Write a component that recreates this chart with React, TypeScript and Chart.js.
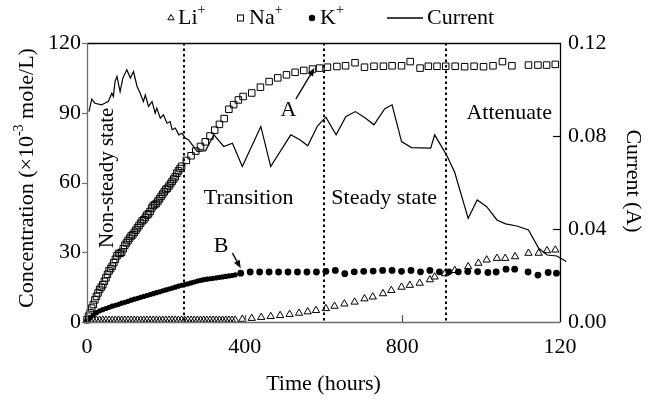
import React, { useEffect, useRef } from 'react';
import { Chart, registerables } from 'chart.js';
Chart.register(...registerables);

// ---------- data ----------
const naTime = [0, 4, 8, 12, 16, 20, 24, 28, 32, 36, 40, 44, 48, 52, 56, 60, 64, 68, 72, 76, 80, 84, 88, 92, 96, 100, 104, 108, 112, 116, 120, 124, 128, 132, 136, 140, 144, 148, 152, 156, 160, 164, 168, 172, 176, 180, 184, 188, 192, 196, 200, 204, 208, 212, 216, 220, 224, 228, 232, 236, 240, 252, 264, 276, 288, 300, 312, 324, 336, 348, 360, 372, 384, 396, 418, 440, 462, 484, 506, 528, 550, 572, 590, 610, 634, 656, 680, 704, 728, 752, 774, 798, 820, 845, 866, 888, 910, 934, 958, 982, 1006, 1030, 1054, 1078, 1120, 1144, 1166, 1188];
const naValues = [1, 2.5, 4, 6, 7.5, 9.5, 11, 12.5, 14, 15, 16, 17.5, 19, 20.5, 22, 23, 24, 25.5, 27, 28.5, 29.5, 29.5, 30, 31.5, 33, 34, 35, 36, 37, 37.5, 38.5, 39.5, 40.5, 41.5, 42.5, 43.5, 44, 45, 46, 46.5, 47.5, 49, 50, 50.5, 51, 52, 53, 54, 55, 56, 57, 57.5, 58.5, 59.5, 60.5, 61.5, 62.5, 64, 65, 66, 67, 69.5, 71.5, 73.5, 75.5, 77.5, 80, 82.5, 85, 87.5, 91.5, 93.5, 95.5, 97, 98.5, 101, 103.4, 105, 106.3, 107.4, 108.2, 108.8, 109.2, 109.6, 109.9, 110.2, 111.5, 109.6, 110, 110, 110.2, 110.2, 112, 109.2, 110, 110, 110, 110, 109.8, 110, 109.8, 110.2, 112, 110.2, 110.5, 110.5, 110.5, 110.8];

const kTime = [0, 8, 16, 24, 32, 40, 48, 56, 64, 72, 80, 88, 96, 104, 112, 120, 128, 136, 144, 152, 160, 168, 176, 184, 192, 200, 208, 216, 224, 232, 240, 248, 256, 264, 272, 280, 288, 296, 304, 312, 320, 328, 336, 344, 352, 360, 368, 376, 390, 414, 438, 462, 486, 510, 534, 558, 582, 606, 630, 654, 678, 702, 726, 750, 774, 798, 822, 846, 870, 894, 918, 942, 966, 991, 1017, 1038, 1063, 1085, 1119, 1144, 1170, 1191];
const kValues = [0.5, 2, 3, 4, 4.8, 5.3, 5.8, 6.3, 6.8, 7.2, 7.6, 8.1, 8.5, 8.9, 9.4, 9.8, 10.2, 10.6, 11, 11.4, 11.8, 12.2, 12.6, 13, 13.4, 13.8, 14.2, 14.6, 15, 15.4, 15.8, 16.1, 16.4, 16.8, 17.2, 17.6, 17.9, 18.2, 18.4, 18.6, 18.8, 19, 19.2, 19.4, 19.6, 19.8, 20, 20.3, 21, 21.5, 21.5, 21.5, 21.5, 21.5, 21.5, 21.5, 21.5, 21.8, 22.2, 20.8, 21.6, 21.8, 21.9, 22.2, 22.2, 21.8, 22.2, 21.6, 22.2, 21.6, 21.6, 21.6, 21.7, 21.7, 21.3, 21.5, 22.7, 22.7, 21.5, 20.2, 21.3, 21];

const liTime = [0, 8, 16, 24, 32, 40, 48, 56, 64, 72, 80, 88, 96, 104, 112, 120, 128, 136, 144, 152, 160, 168, 176, 184, 192, 200, 208, 216, 224, 232, 240, 248, 256, 264, 272, 280, 288, 296, 304, 312, 320, 328, 336, 344, 352, 360, 368, 376, 394, 418, 442, 466, 490, 514, 538, 560, 581, 606, 628, 653, 679, 704, 725, 751, 772, 798, 819, 844, 870, 882, 908, 933, 967, 993, 1014, 1040, 1061, 1086, 1120, 1146, 1167, 1188];
const liValues = [0.8, 0.8, 0.8, 0.8, 0.8, 0.8, 0.8, 0.8, 0.8, 0.8, 0.8, 0.8, 0.8, 0.8, 0.8, 0.8, 0.8, 0.8, 0.8, 0.8, 0.8, 0.8, 0.8, 0.8, 0.8, 0.8, 0.8, 0.8, 0.8, 0.8, 0.8, 0.8, 0.8, 0.8, 0.8, 0.8, 0.8, 0.8, 0.8, 0.8, 0.8, 0.8, 0.8, 0.8, 0.8, 0.8, 0.8, 0.8, 1.2, 1.6, 2.0, 2.4, 2.8, 3.3, 3.8, 4.4, 5.0, 5.8, 6.8, 7.8, 8.6, 10.0, 10.8, 12.2, 13.6, 15.0, 15.8, 16.7, 18.2, 19.4, 20.8, 22.2, 23.8, 25.3, 26.7, 27.4, 27.4, 28.1, 29.6, 29.6, 30.7, 31];

const currentTime = [5, 12, 20, 37, 45, 54, 63, 67, 71, 76, 84, 91, 101, 110, 118, 127, 135, 143, 148, 156, 165, 173, 177, 186, 194, 203, 211, 216, 224, 233, 241, 250, 258, 267, 280, 301, 322, 347, 369, 394, 441, 466, 517, 541, 560, 585, 606, 632, 657, 681, 706, 728, 755, 774, 798, 823, 872, 882, 912, 933, 967, 990, 1014, 1040, 1062, 1091, 1120, 1146, 1167, 1192, 1216];
const currentValues = [0.0905, 0.0959, 0.0941, 0.0934, 0.0941, 0.0948, 0.0984, 0.097, 0.1034, 0.1056, 0.0991, 0.1049, 0.1085, 0.1049, 0.1077, 0.1013, 0.0984, 0.0948, 0.0977, 0.0927, 0.0948, 0.0898, 0.092, 0.0877, 0.0891, 0.0855, 0.0862, 0.0827, 0.0834, 0.0805, 0.0812, 0.079, 0.0783, 0.0762, 0.0733, 0.0737, 0.0805, 0.0755, 0.0769, 0.0669, 0.0841, 0.0669, 0.0805, 0.0783, 0.0758, 0.0844, 0.0881, 0.0805, 0.0884, 0.0905, 0.0877, 0.0848, 0.0916, 0.0934, 0.0776, 0.075, 0.0748, 0.0805, 0.0719, 0.0643, 0.0446, 0.0525, 0.0496, 0.0439, 0.0422, 0.0413, 0.0396, 0.0317, 0.0288, 0.0284, 0.026];

const xTickValues = [0, 400, 800, 1200];
const xTickLabels = ['0', '400', '800', '120'];
const yTickValues = [0, 30, 60, 90, 120];
const yTickLabels = ['0', '30', '60', '90', '120'];
const y1TickValues = [0, 0.04, 0.08, 0.12];
const y1TickLabels = ['0.00', '0.04', '0.08', '0.12'];

const phaseBoundaries = [245, 600, 912];
const phaseTexts = ['Non-steady state', 'Transition', 'Steady state', 'Attenuate'];
const phaseTextTime = [51, 410, 754, 1071];
const phaseTextConc = [62, 53.4, 53.4, 90];

const markLabels = ['A', 'B'];
const markLabelTime = [511, 340];
const markLabelConc = [91, 32.5];
const arrowFromTime = [530, 369];
const arrowFromConc = [96, 29.6];
const arrowToTime = [577, 390];
const arrowToConc = [109.2, 23.1];

// ---------- styling ----------
const FONT = "'Liberation Serif', 'Times New Roman', Times, serif";
const BASE = `22px ${FONT}`;
const SUP = `14px ${FONT}`;

type Part = { t: string; sup?: boolean };

function drawRich(ctx: CanvasRenderingContext2D, parts: Part[], x: number, y: number, align: 'left' | 'center') {
  let total = 0;
  const widths = parts.map((p) => {
    ctx.font = p.sup ? SUP : BASE;
    const w = ctx.measureText(p.t).width;
    total += w;
    return w;
  });
  let cx = align === 'center' ? x - total / 2 : x;
  ctx.textAlign = 'left';
  ctx.textBaseline = 'middle';
  parts.forEach((p, i) => {
    ctx.font = p.sup ? SUP : BASE;
    ctx.fillText(p.t, cx, p.sup ? y - 8 : y);
    cx += widths[i];
  });
}

function arrow(ctx: CanvasRenderingContext2D, x1: number, y1: number, x2: number, y2: number) {
  const ang = Math.atan2(y2 - y1, x2 - x1);
  const hl = 8;
  const hw = 3.2;
  ctx.beginPath();
  ctx.moveTo(x1, y1);
  ctx.lineTo(x2 - Math.cos(ang) * hl * 0.8, y2 - Math.sin(ang) * hl * 0.8);
  ctx.stroke();
  ctx.beginPath();
  ctx.moveTo(x2, y2);
  ctx.lineTo(x2 - Math.cos(ang) * hl - Math.sin(ang) * hw, y2 - Math.sin(ang) * hl + Math.cos(ang) * hw);
  ctx.lineTo(x2 - Math.cos(ang) * hl + Math.sin(ang) * hw, y2 - Math.sin(ang) * hl - Math.cos(ang) * hw);
  ctx.closePath();
  ctx.fill();
}

const overlayPlugin = {
  id: 'overlay',
  beforeDatasetsDraw(chart: any) {
    const { ctx, chartArea: a, scales } = chart;
    const x = scales.x;
    ctx.save();
    ctx.strokeStyle = '#000';
    ctx.lineWidth = 2;
    ctx.setLineDash([2.5, 3]);
    phaseBoundaries.forEach((t) => {
      const px = Math.round(x.getPixelForValue(t));
      ctx.beginPath();
      ctx.moveTo(px, a.top);
      ctx.lineTo(px, a.bottom);
      ctx.stroke();
    });
    ctx.restore();
  },
  afterDraw(chart: any) {
    const { ctx, chartArea: a, scales } = chart;
    const x = scales.x;
    const y = scales.y;
    const y1 = scales.y1;
    ctx.save();
    // frame
    ctx.lineWidth = 1.3;
    ctx.strokeStyle = '#000';
    ctx.beginPath();
    ctx.moveTo(a.left, a.top + 0.5);
    ctx.lineTo(a.right + 0.5, a.top + 0.5);
    ctx.lineTo(a.right + 0.5, a.bottom);
    ctx.stroke();
    ctx.strokeStyle = '#6e6e6e';
    ctx.beginPath();
    ctx.moveTo(a.left + 0.5, a.top);
    ctx.lineTo(a.left + 0.5, a.bottom + 0.5);
    ctx.lineTo(a.right + 0.5, a.bottom + 0.5);
    ctx.stroke();
    // ticks
    ctx.lineWidth = 1.2;
    yTickValues.forEach((v) => {
      const py = Math.round(y.getPixelForValue(v)) + 0.5;
      ctx.beginPath();
      ctx.moveTo(a.left - 5, py);
      ctx.lineTo(a.left, py);
      ctx.stroke();
    });
    ctx.strokeStyle = '#000';
    y1TickValues.slice(1, 3).forEach((v) => {
      const py = Math.round(y1.getPixelForValue(v)) + 0.5;
      ctx.beginPath();
      ctx.moveTo(a.right - 7, py);
      ctx.lineTo(a.right, py);
      ctx.stroke();
    });
    ctx.strokeStyle = '#555';
    xTickValues.slice(1, 3).forEach((v) => {
      const px = Math.round(x.getPixelForValue(v)) + 0.5;
      ctx.beginPath();
      ctx.moveTo(px, a.bottom);
      ctx.lineTo(px, a.bottom - 7);
      ctx.stroke();
    });

    ctx.fillStyle = '#000';
    ctx.strokeStyle = '#000';
    // axis titles
    ctx.save();
    ctx.translate(27, 178);
    ctx.rotate(-Math.PI / 2);
    drawRich(ctx, [{ t: 'Concentration (×10' }, { t: '-3', sup: true }, { t: ' mole/L)' }], 0, 0, 'center');
    ctx.restore();
    ctx.save();
    ctx.translate(633, 181);
    ctx.rotate(Math.PI / 2);
    drawRich(ctx, [{ t: 'Current (A)' }], 0, 0, 'center');
    ctx.restore();
    drawRich(ctx, [{ t: 'Time (hours)' }], (a.left + a.right) / 2, 384, 'center');

    // legend
    const ly = 18;
    ctx.lineWidth = 1;
    const tr = 3.6;
    ctx.beginPath();
    ctx.moveTo(171, ly - tr);
    ctx.lineTo(171 + tr * 0.866, ly + tr * 0.5);
    ctx.lineTo(171 - tr * 0.866, ly + tr * 0.5);
    ctx.closePath();
    ctx.stroke();
    drawRich(ctx, [{ t: 'Li' }, { t: '+', sup: true }], 178, ly, 'left');
    ctx.strokeRect(237.5, ly - 3, 6, 6);
    drawRich(ctx, [{ t: 'Na' }, { t: '+', sup: true }], 249, ly, 'left');
    ctx.beginPath();
    ctx.arc(312, ly, 3.2, 0, Math.PI * 2);
    ctx.fill();
    drawRich(ctx, [{ t: 'K' }, { t: '+', sup: true }], 320, ly, 'left');
    ctx.lineWidth = 1.3;
    ctx.beginPath();
    ctx.moveTo(387, ly);
    ctx.lineTo(423, ly);
    ctx.stroke();
    drawRich(ctx, [{ t: 'Current' }], 427, ly, 'left');

    // phase texts
    phaseTexts.forEach((txt, i) => {
      const px = x.getPixelForValue(phaseTextTime[i]);
      const py = y.getPixelForValue(phaseTextConc[i]);
      if (i === 0) {
        ctx.save();
        ctx.translate(px, py);
        ctx.rotate(-Math.PI / 2);
        ctx.font = `21px ${FONT}`;
        ctx.textAlign = 'center';
        ctx.textBaseline = 'middle';
        ctx.fillText(txt, 0, 0);
        ctx.restore();
      } else {
        drawRich(ctx, [{ t: txt }], px, py, 'center');
      }
    });
    // marks and arrows
    ctx.lineWidth = 1.3;
    markLabels.forEach((m, i) => {
      drawRich(ctx, [{ t: m }], x.getPixelForValue(markLabelTime[i]), y.getPixelForValue(markLabelConc[i]), 'center');
      arrow(
        ctx,
        x.getPixelForValue(arrowFromTime[i]),
        y.getPixelForValue(arrowFromConc[i]),
        x.getPixelForValue(arrowToTime[i]),
        y.getPixelForValue(arrowToConc[i])
      );
    });
    ctx.restore();
  },
};

export default function App() {
  const ref = useRef<HTMLCanvasElement>(null);
  useEffect(() => {
    if (!ref.current) return;
    const tickFont = { family: FONT, size: 22 };
    const chart = new Chart(ref.current, {
      type: 'scatter',
      data: {
        datasets: [
          {
            type: 'line',
            label: 'Current',
            data: currentTime.map((t, i) => ({ x: t, y: currentValues[i] })),
            yAxisID: 'y1',
            borderColor: '#000',
            borderWidth: 1.2,
            pointRadius: 0,
            tension: 0,
            fill: false,
            clip: false,
          } as any,
          {
            label: 'Na+',
            data: naTime.map((t, i) => ({ x: t, y: naValues[i] })),
            yAxisID: 'y',
            pointStyle: 'rect',
            pointRadius: 4.6,
            borderColor: '#000',
            backgroundColor: 'rgba(0,0,0,0)',
            borderWidth: 1,
            clip: false,
          } as any,
          {
            label: 'K+',
            data: kTime.map((t, i) => ({ x: t, y: kValues[i] })),
            yAxisID: 'y',
            pointStyle: 'circle',
            pointRadius: (c: any) => (kTime[c.dataIndex] < 385 ? 2.6 : 3.4),
            borderColor: '#000',
            backgroundColor: '#000',
            borderWidth: 0,
            clip: false,
          } as any,
          {
            label: 'Li+',
            data: liTime.map((t, i) => ({ x: t, y: liValues[i] })),
            yAxisID: 'y',
            pointStyle: 'triangle',
            pointRadius: 4.2,
            borderColor: '#000',
            backgroundColor: 'rgba(0,0,0,0)',
            borderWidth: 1,
            clip: false,
          } as any,
        ],
      },
      options: {
        animation: false,
        responsive: false,
        devicePixelRatio: 1,
        events: [],
        layout: { padding: { top: 43, left: 0, right: 0, bottom: 0 } },
        plugins: { legend: { display: false }, tooltip: { enabled: false } },
        scales: {
          x: {
            type: 'linear',
            min: 0,
            max: 1200,
            grid: { display: false, drawTicks: false },
            border: { display: false },
            afterBuildTicks: (s: any) => {
              s.ticks = xTickValues.map((v) => ({ value: v }));
            },
            afterFit: (s: any) => {
              s.height = 81;
            },
            ticks: {
              font: tickFont,
              color: '#000',
              padding: 12,
              maxRotation: 0,
              callback: (v: any) => xTickLabels[xTickValues.indexOf(Number(v))] ?? '',
            },
          },
          y: {
            type: 'linear',
            position: 'left',
            min: 0,
            max: 120,
            grid: { display: false, drawTicks: false },
            border: { display: false },
            afterBuildTicks: (s: any) => {
              s.ticks = yTickValues.map((v) => ({ value: v }));
            },
            afterFit: (s: any) => {
              s.width = 87;
            },
            ticks: {
              font: tickFont,
              color: '#000',
              padding: 6,
              callback: (v: any) => yTickLabels[yTickValues.indexOf(Number(v))] ?? '',
            },
          },
          y1: {
            type: 'linear',
            position: 'right',
            min: 0,
            max: 0.12,
            grid: { display: false, drawTicks: false },
            border: { display: false },
            afterBuildTicks: (s: any) => {
              s.ticks = y1TickValues.map((v) => ({ value: v }));
            },
            afterFit: (s: any) => {
              s.width = 96;
            },
            ticks: {
              font: tickFont,
              color: '#000',
              padding: 8,
              callback: (v: any) => {
                const i = y1TickValues.findIndex((t) => Math.abs(t - Number(v)) < 1e-9);
                return i >= 0 ? y1TickLabels[i] : '';
              },
            },
          },
        },
      } as any,
      plugins: [overlayPlugin],
    });
    return () => chart.destroy();
  }, []);
  return (
    <div style={{ position: 'fixed', left: 0, top: 0, width: 656, height: 403, background: '#fff' }}>
      <canvas ref={ref} width={656} height={403} style={{ width: 656, height: 403, display: 'block' }} />
    </div>
  );
}
